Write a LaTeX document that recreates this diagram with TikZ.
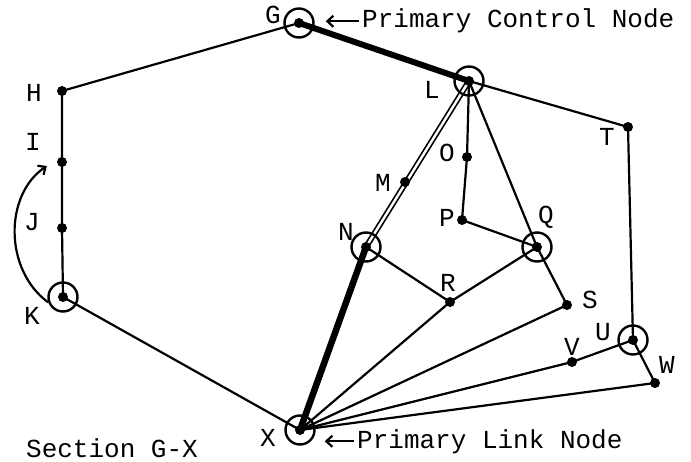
\documentclass[tikz,border=0pt]{standalone}
\usepackage{fontspec}
\setmonofont{Liberation Mono}
\usetikzlibrary{arrows.meta,backgrounds}
\begin{document}
\begin{tikzpicture}[x=1pt,y=-1pt, every node/.style={font=\fontsize{26}{28}\selectfont\ttfamily},
  dot/.style={circle,fill,inner sep=0pt,minimum size=10pt},
  hub/.style={circle,draw,line width=2.4pt,inner sep=0pt,minimum size=29pt,
    path picture={\fill (path picture bounding box.center) circle (5pt);}},
  lnk/.style={line width=2.2pt},
  heavy/.style={line width=6pt},
  twin/.style={line width=1.7pt,double,double distance=2.4pt},
  arr/.style={line width=2.2pt,-{Straight Barb[length=6pt,width=11pt]}}]
\useasboundingbox (0,0) rectangle (691,462);
\node[hub] (G) at (299,23) {};
\node[hub] (L) at (469,81) {};
\node[dot] (H) at (62,91) {};
\node[dot] (I) at (62,162) {};
\node[dot] (J) at (62,228) {};
\node[hub] (K) at (63,297) {};
\node[dot] (T) at (628,127) {};
\node[dot] (O) at (467,157) {};
\node[dot] (M) at (405,182) {};
\node[dot] (P) at (462,220) {};
\node[hub] (N) at (366,247) {};
\node[hub] (Q) at (537,247) {};
\node[dot] (R) at (450,302) {};
\node[dot] (S) at (567,305) {};
\node[hub] (U) at (633,340) {};
\node[dot] (V) at (572,362) {};
\node[dot] (W) at (655,383) {};
\node[hub] (X) at (300,430) {};
\node (lG) at (273,15) {G};
\node (lL) at (432,90) {L};
\node (lH) at (34,93) {H};
\node (lI) at (33,142) {I};
\node (lJ) at (32,222) {J};
\node (lK) at (32,316) {K};
\node (lT) at (607,137) {T};
\node (lO) at (447,153) {O};
\node (lM) at (383,183) {M};
\node (lN) at (346,232) {N};
\node (lP) at (447,218) {P};
\node (lQ) at (546,217) {Q};
\node (lR) at (448,283) {R};
\node (lS) at (590,300) {S};
\node (lU) at (603,332) {U};
\node (lV) at (572,347) {V};
\node (lW) at (667,365) {W};
\node (lX) at (268,438) {X};
\node[anchor=base west,inner sep=0pt] (ctrl) at (362,28) {Primary Control Node};
\node[anchor=base west,inner sep=0pt] (link) at (357,448) {Primary Link Node};
\node[anchor=base west,inner sep=0pt] (sect) at (26,457) {Section G-X};
\begin{scope}[on background layer]
\draw[lnk] (G.center) -- (H.center) -- (I.center) -- (J.center) -- (K.center) -- (X.center);
\draw[lnk] (L.center) -- (T.center) -- (U.center);
\draw[lnk] (L.center) -- (O.center) -- (P.center) -- (Q.center);
\draw[lnk] (L.center) -- (Q.center) -- (S.center);
\draw[lnk] (N.center) -- (R.center) -- (Q.center);
\draw[lnk] (X.center) -- (R.center);
\draw[lnk] (X.center) -- (S.center);
\draw[lnk] (X.center) -- (V.center) -- (U.center);
\draw[lnk] (X.center) -- (W.center) -- (U.center);
\draw[heavy] (G.center) -- (L.center);
\draw[heavy,line width=6.5pt] (N.center) -- (X.center);
\draw[twin] (L.center) -- (N.center);
\end{scope}
\draw[arr] (K.200) .. controls (4,270) and (4,195) .. ([shift={(-10,4)}]I.west);
\draw[arr] ([xshift=-3pt]ctrl.west) -- ([xshift=11pt]G.east |- ctrl.west);
\draw[arr] ([xshift=-3pt]link.west) -- ([xshift=9pt]X.east |- link.west);
\end{tikzpicture}
\end{document}
